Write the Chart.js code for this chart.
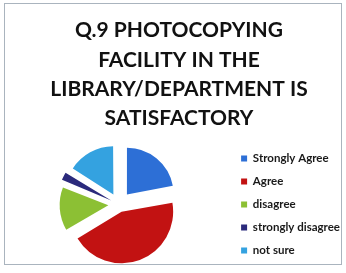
<!DOCTYPE html>
<html>
<head>
<meta charset="utf-8">
<script src="https://cdn.jsdelivr.net/npm/chart.js@4.4.0/dist/chart.umd.min.js"></script>
<style>
  html, body { margin: 0; padding: 0; background: #fff; overflow: hidden; }
  #frame {
    position: absolute; left: 4px; top: 3px;
    width: 338px; height: 262px;
    border: 1px solid #aab4be;
    box-sizing: border-box;
  }
  #box {
    position: absolute; left: 8px; top: 3px;
    width: 342px; height: 272px;
  }
</style>
</head>
<body>
<div id="frame"></div>
<div id="box"><canvas id="pie"></canvas></div>
<script>
// PIE CHART
const categories = ['Strongly Agree', 'Agree', 'disagree', 'strongly disagree', 'not sure'];
const responses = [22, 44.5, 14.5, 3, 16];
const sliceColors = ['#2d6fd6', '#c21212', '#8cc034', '#2b2a7c', '#34a2e0'];
// chart.js pushes narrow/wide slices out by different amounts, so even it out per slice
const sliceOffsets = [51, 31, 42, 34, 45];
const titleLines = ['Q.9 PHOTOCOPYING', 'FACILITY IN THE', 'LIBRARY/DEPARTMENT IS', 'SATISFACTORY'];

const ctx = document.getElementById('pie').getContext('2d');

new Chart(ctx, {
    type: 'pie',
    data: {
        labels: categories,
        datasets: [{
            data: responses,
            backgroundColor: sliceColors,
            borderWidth: 0,
            offset: sliceOffsets,
            radius: 46.5
        }]
    },
    options: {
        responsive: true,
        maintainAspectRatio: false,
        animation: false,
        layout: {
            padding: 0
        },
        plugins: {
            title: {
                display: true,
                text: titleLines,
                color: '#111111',
                font: { family: 'Lato', size: 21, weight: 'bold', lineHeight: 1.39 },
                padding: { top: 13, bottom: 1 }
            },
            legend: {
                position: 'right',
                align: 'center',
                fullSize: false,
                labels: {
                    boxWidth: 6,
                    boxHeight: 6,
                    padding: 11.5,
                    color: '#1a1a1a',
                    font: { family: 'Lato', size: 11.5, weight: 'bold' }
                }
            },
            tooltip: { enabled: false }
        }
    }
});
</script>
</body>
</html>
